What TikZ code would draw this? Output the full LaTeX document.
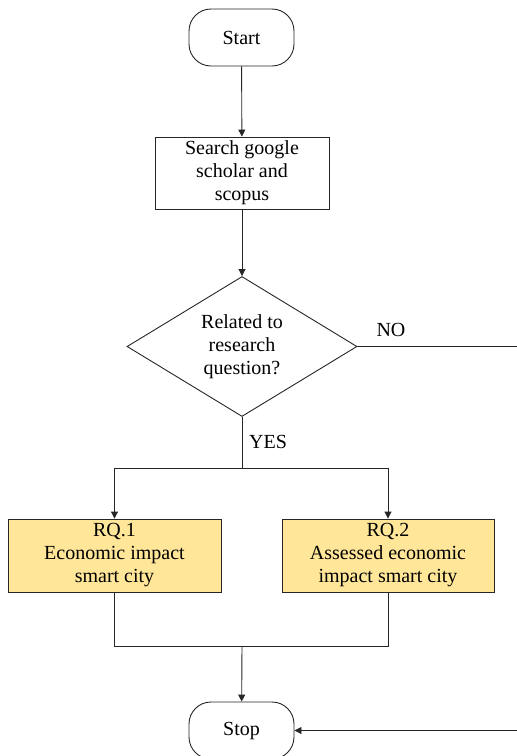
\documentclass[tikz,border=0pt]{standalone}
\usepackage{fontspec}
\setmainfont{Liberation Serif}
\usetikzlibrary{shapes.geometric,arrows.meta}
\definecolor{rqfill}{HTML}{FFE699}
\begin{document}
\begin{tikzpicture}[x=1pt,y=-1pt,
  every node/.style={font=\fontsize{20}{23}\selectfont},
  line/.style={draw=black!85,line width=0.9pt},
  arr/.style={line,-{Triangle[length=7pt,width=7pt]}},
  term/.style={line,rounded corners=22pt,minimum width=105pt,minimum height=57pt,inner sep=0pt},
  procbox/.style={line,align=center,inner sep=0pt},
  decision/.style={line,diamond,align=center,inner sep=0pt,minimum width=230pt,minimum height=140pt,aspect=1.64},
  lbl/.style={inner sep=0pt}]
\useasboundingbox (0,0) rectangle (517,756);
\node[term] (start) at (241.5,37.5) {Start};
\node[procbox,minimum width=174pt,minimum height=72pt] (search) at (242,173) {Search google\\scholar and\\scopus};
\node[decision] (dec) at (242,346.5) {Related to\\research\\question?};
\node[procbox,fill=rqfill,minimum width=213pt,minimum height=73pt] (rq1) at (114.5,555.5) {RQ.1\\Economic impact\\smart city};
\node[procbox,fill=rqfill,minimum width=212pt,minimum height=73pt] (rq2) at (388,555.5) {RQ.2\\Assessed economic\\impact smart city};
\node[term] (stop) at (241.5,730.5) {Stop};
\coordinate (noend) at (517,346.5);
\coordinate (split) at (242,468);
\coordinate (join) at (242,646);
\coordinate (noin) at (517,730.5);
\node[lbl] (nolbl) at (391,330) {NO};
\node[lbl] (yeslbl) at (268,442) {YES};
\draw[arr] (start) -- (search);
\draw[arr] (search) -- (dec);
\draw[line] (dec.east) -- (noend);
\draw[line] (dec.south) -- (split);
\draw[arr] (split) -| (rq1.north);
\draw[arr] (split) -| (rq2.north);
\draw[line] (rq1.south) |- (join);
\draw[line] (rq2.south) |- (join);
\draw[arr] (join) -- (stop);
\draw[arr] (noin) -- (stop.east);
\end{tikzpicture}
\end{document}
